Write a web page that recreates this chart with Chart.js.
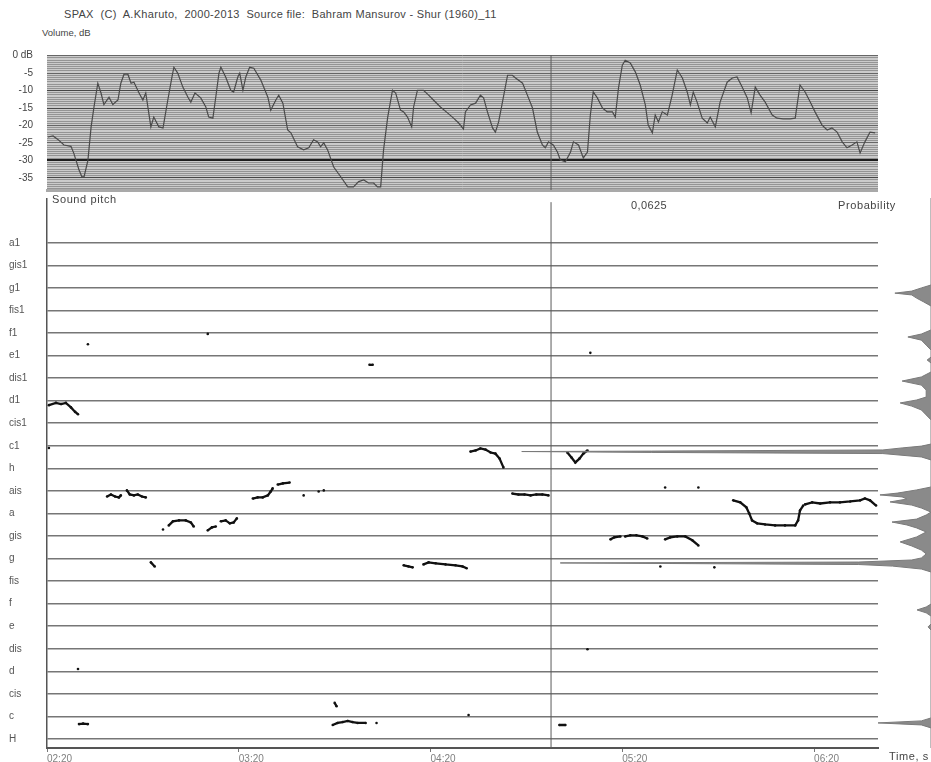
<!DOCTYPE html>
<html lang="en">
<head>
<meta charset="UTF-8">
<title>SPAX - Sound pitch</title>
<script src="https://cdn.jsdelivr.net/npm/chart.js"></script>
<style>
    body { margin: 0; background: #fff; font-family: 'Liberation Sans', Arial, sans-serif; }
    #page { position: relative; width: 931px; height: 762px; overflow: hidden; }
    .box { position: absolute; }
    .lbl { position: absolute; font-size: 11px; letter-spacing: 0.6px; color: #444; white-space: pre; }
</style>
</head>
<body>
<div id="page">
    <div class="box" style="left:0;top:45px;width:878px;height:150px;"><canvas id="volumeChart"></canvas></div>
    <div class="box" style="left:0;top:195px;width:882px;height:567px;"><canvas id="pitchChart"></canvas></div>
    <div class="box" style="left:0;top:195px;width:931px;height:567px;"><canvas id="probChart"></canvas></div>
    <div class="lbl" style="left:64px;top:8px;letter-spacing:0.3px;">SPAX  (C)  A.Kharuto,  2000-2013  Source file:  Bahram Mansurov - Shur (1960)_11</div>
    <div class="lbl" style="left:42px;top:27px;font-size:9.5px;letter-spacing:0;">Volume, dB</div>
    <div class="lbl" style="left:52px;top:193px;">Sound pitch</div>
    <div class="lbl" style="left:631px;top:199px;letter-spacing:0.4px;">0,0625</div>
    <div class="lbl" style="left:838px;top:199px;">Probability</div>
    <div class="lbl" style="left:889px;top:750px;">Time, s</div>
</div>

<script>
// time axis (seconds), ticks every minute
const tMin = 140, tMax = 400;
const timeTicks = [140, 200, 260, 320, 380];
const timeLabels = ['02:20', '03:20', '04:20', '05:20', '06:20'];
const cursorTime = 297.7;

// volume panel
const volMin = -38.5, volMax = 0.2;
const volTickValues = [0, -5, -10, -15, -20, -25, -30, -35];
const volTickLabels = ['0 dB', '-5', '-10', '-15', '-20', '-25', '-30', '-35'];
const volTime = [
    140.3,141.9,143.4,145.3,147.5,148.4,150.0,150.9,151.6,152.8,
    153.8,154.7,155.9,156.9,157.8,159.4,160.6,162.2,163.1,164.1,
    165.3,166.3,167.2,168.8,170.0,170.9,172.5,173.4,175.0,176.3,
    177.8,179.1,179.7,180.9,182.5,184.1,185.0,186.3,188.1,189.7,
    190.6,191.9,192.8,193.8,194.4,195.9,197.5,198.4,199.7,200.3,
    201.3,202.2,203.4,204.7,206.9,209.1,210.0,211.6,212.5,213.8,
    215.3,216.3,218.4,220.3,221.9,223.4,224.7,225.6,226.6,227.8,
    229.7,231.9,234.1,235.9,237.5,239.1,240.6,242.2,243.4,244.4,
    245.3,246.6,248.1,249.1,250.6,251.6,252.8,254.1,254.7,255.9,
    257.8,259.4,260.9,263.1,265.3,267.2,268.8,270.3,270.9,272.5,
    274.1,275.6,276.6,277.8,279.4,280.3,281.3,282.5,284.1,285.6,
    286.6,288.8,290.3,291.9,293.4,295.0,295.9,296.9,298.4,299.7,
    300.6,302.2,303.8,304.7,306.3,307.8,309.1,310.0,310.9,312.2,
    313.8,315.3,316.9,317.8,318.8,320.0,320.9,322.5,324.1,325.6,
    327.2,328.1,329.4,330.3,331.3,332.5,334.1,335.6,337.2,338.8,
    340.3,341.3,342.2,343.4,345.0,346.6,347.5,349.1,350.6,352.8,
    354.4,355.9,357.5,359.1,360.3,361.6,363.1,364.7,366.9,368.4,
    370.3,372.5,374.1,375.6,377.2,378.8,380.3,382.5,384.1,385.6,
    387.2,388.8,390.3,391.9,393.4,394.4,395.9,397.5,399.1
];
const volDb = [
    -23.3,-23,-24,-25.6,-26,-28,-32.7,-34.7,-34.7,-30,
    -20.4,-14.7,-7.9,-10.7,-14,-11.9,-14,-12.7,-7.9,-5.3,
    -5.3,-7.9,-7.6,-10.7,-12.7,-10.7,-20.4,-17.6,-20.4,-20.7,
    -12.7,-6.1,-3.3,-5,-9,-11.9,-13.3,-10.7,-12.1,-14.7,
    -17.6,-17.9,-11.9,-5,-3.3,-6.1,-9.9,-10.4,-6.1,-5,
    -9.9,-6.1,-3.3,-3.6,-7,-11.9,-15.6,-12.7,-11.3,-13.6,
    -21.3,-22.1,-26.1,-27,-26.4,-24.1,-24.7,-26.1,-25,-27,
    -31.9,-34.7,-37.6,-37.6,-36.1,-35.6,-36.5,-36.5,-37.6,-37.6,
    -27,-17.6,-9.9,-10.7,-15.6,-16.1,-17.6,-20.4,-14.7,-9.9,
    -9.9,-11.3,-12.7,-14.7,-16.4,-17.9,-19.3,-21,-16.1,-14.1,
    -13.6,-11.3,-12.1,-16.1,-20.7,-21.9,-19,-13.3,-5.6,-5.6,
    -6.4,-7.9,-11.3,-15,-21.9,-25.6,-26.4,-24.7,-25.6,-27.6,
    -29.9,-30.4,-27.6,-24.7,-25.6,-29.3,-27.6,-17,-10.4,-12.1,
    -15,-16.1,-16.1,-17.6,-9.3,-2.7,-1.3,-2.1,-4.7,-8.4,
    -14.1,-19.9,-22.1,-17,-19,-16.1,-17,-11.3,-4.1,-6.4,
    -10.4,-14.1,-10.4,-13.3,-17.9,-19.3,-17.6,-20.4,-13.3,-7.6,
    -6.4,-6.1,-9,-12.1,-16.4,-9,-11.3,-13.3,-17,-17.9,
    -18.1,-18.1,-17.9,-8.4,-10.4,-13.3,-16.1,-19.9,-21.3,-20.7,
    -21.9,-24.7,-26.4,-25.6,-24.7,-27.9,-24.7,-21.9,-22.1
];

// pitch panel: semitones above H
const pMin = -0.4, pMax = 23.94;
const noteNames = ['H','c','cis','d','dis','e','f','fis','g','gis','a','ais','h',
                   'c1','cis1','d1','dis1','e1','f1','fis1','g1','gis1','a1'];
const trackTimes = [
    [140.6,142.8,144.4,145.9,147.5,148.8,149.7], [140.6], [152.8], [149.7], [150.0,151.3,152.8],
    [158.8,160.0,161.3,162.5,163.1], [165.0,165.9,167.2,168.4,169.7,170.9], [172.5,173.7], [176.3],
    [178.1,179.4,181.3,183.4,185.0,185.9], [190.3], [190.3,191.6,192.8], [194.4,195.9,197.2,198.4,199.4],
    [204.4,205.9,207.5,209.1,210.0,210.6], [212.2,213.8,215.9], [220.3], [225.0], [226.6],
    [229.4,230.9,232.5,234.1,235.6,237.2,239.7], [230.0,230.6], [243.1], [240.9,241.9],
    [251.6,253.1,254.4], [257.8,259.4,261.6,264.7,267.8,270.0,271.3], [271.9],
    [272.5,274.1,275.6,277.2,278.8,280.3,281.6,282.8], [285.6,287.5,289.4,291.3,293.1,295.0,296.9],
    [300.3,302.2], [302.8,304.1,305.3,306.6,307.8,309.1], [310.0], [309.1],
    [316.3,317.5,319.4], [320.9,322.5,324.4,326.3,327.8], [331.9], [333.4], [343.8],
    [333.4,335.0,337.2,339.7,341.9,343.8], [348.8],
    [354.7,356.9,358.8,359.7,360.6,362.2,364.7,367.8,370.9,374.1,375.0,375.6,376.6],
    [377.2,379.4,381.9,385.0,388.1,391.3,394.4,395.9,397.5,399.4]
];
const trackPitches = [
    [14.8,14.9,14.85,14.9,14.7,14.5,14.4], [12.9], [17.5], [3.1], [0.66,0.68,0.66],
    [10.75,10.84,10.75,10.71,10.8], [11.02,10.84,10.8,10.84,10.75,10.71], [7.83,7.65], [9.29],
    [9.47,9.65,9.69,9.69,9.6,9.42], [17.96], [9.25,9.38,9.42], [9.65,9.69,9.56,9.6,9.78],
    [10.66,10.71,10.71,10.8,10.97,11.11], [11.28,11.33,11.37], [10.8], [10.97], [11.02],
    [0.62,0.71,0.75,0.8,0.75,0.71,0.71], [1.6,1.45], [0.71], [16.59,16.59],
    [7.7,7.65,7.61], [7.74,7.83,7.79,7.74,7.7,7.65,7.57], [1.06],
    [12.74,12.79,12.88,12.83,12.7,12.65,12.43,12.04], [10.88,10.84,10.84,10.8,10.84,10.84,10.8],
    [0.62,0.62], [12.7,12.48,12.26,12.43,12.65,12.79], [17.12], [3.98],
    [8.85,8.94,8.98], [8.98,9.03,9.03,8.98,8.89], [7.65], [11.15], [11.15],
    [8.85,8.94,8.98,8.98,8.81,8.58], [7.61],
    [10.58,10.49,10.27,10.0,9.69,9.56,9.51,9.47,9.47,9.47,9.69,10.13,10.35],
    [10.4,10.49,10.44,10.49,10.49,10.53,10.58,10.66,10.58,10.35]
];

// pitch probability profile (right strip)
const probMax = 0.1836;
const probPitch = [
    -0.4, 0.49,0.62,0.71,0.80,0.93,1.2, 4.82,4.96,5.09, 5.44,5.58,5.71,5.84,5.97,
    7.39,7.52,7.65,7.72,7.79,7.83,7.92,8.01, 8.19,8.36,8.54,8.72,8.94,9.16,
    9.34,9.47,9.60,9.73,9.91, 10.04,10.22,10.35,10.49,10.62,10.71,10.80,10.88,11.02,11.15,
    12.35,12.48,12.63,12.68,12.72,12.74,12.79,12.88,12.96,13.05,
    14.12,14.34,14.56,14.73,14.87,15.00,15.13, 15.44,15.66,15.84,16.02,16.24,
    16.64,16.77,16.90, 17.21,17.43,17.65,17.79,17.92,18.10,
    19.16,19.34,19.51,19.65,19.73,19.82,19.96,20.09, 23.94
];
const probValue = [
    0, 0,0.002,0.011,0.002,0,0, 0,0.0006,0, 0,0.001,0.0029,0.001,0,
    0,0.002,0.008,0.015,0.077,0.015,0.004,0.002, 0.001,0.002,0.004,0.0064,0.003,0.001,
    0.003,0.005,0.0081,0.003,0.001, 0,0.002,0.004,0.0085,0.005,0.006,0.0106,0.007,0.003,0,
    0,0.002,0.01,0.058,0.085,0.058,0.01,0.006,0.002,0,
    0,0.001,0.002,0.004,0.0064,0.003,0.001, 0.001,0.002,0.006,0.002,0,
    0,0.0008,0, 0,0.001,0.002,0.0048,0.002,0,
    0,0.0015,0.003,0.004,0.0075,0.004,0.002,0, 0
];

// fills the plot area behind the grid
const areaFill = {
    id: 'areaFill',
    beforeDraw(chart, args, opts) {
        if (!opts.color) return;
        const a = chart.chartArea, ctx = chart.ctx;
        ctx.save();
        ctx.fillStyle = opts.color;
        ctx.fillRect(a.left, a.top, a.right - a.left, a.bottom - a.top);
        ctx.restore();
    }
};

// keep the plot areas where the layout padding puts them
function noEdgePadding(s) {
    s.paddingTop = 0; s.paddingBottom = 0; s.paddingLeft = 0; s.paddingRight = 0;
}

const volGrid = [];
for (let v = 0; v >= volMin; v -= 0.625) volGrid.push(v);

function volLineColor(v) {
    if (v === -30) return '#1e1e1e';
    if (v === -10 || v === -15 || v === -35) return '#474747';
    if (v % 5 === 0) return '#666';
    return '#949494';
}

new Chart(document.getElementById('volumeChart'), {
    type: 'scatter',
    data: {
        datasets: [{
            data: volTime.map((t, i) => ({ x: t, y: volDb[i] })),
            showLine: true, borderColor: '#4a4a4a', borderWidth: 1.2, pointRadius: 0
        }, {
            data: [{ x: cursorTime, y: volMin }, { x: cursorTime, y: volMax }],
            showLine: true, borderColor: '#5a5a5a', borderWidth: 1, pointRadius: 0
        }]
    },
    options: {
        animation: false, responsive: true, maintainAspectRatio: false,
        layout: { padding: { top: 10, bottom: 5, left: 0, right: 0 } },
        plugins: { legend: { display: false }, tooltip: { enabled: false }, areaFill: { color: '#cbcbcb' } },
        scales: {
            x: {
                type: 'linear', min: tMin, max: tMax,
                afterFit(s) { s.height = 0; noEdgePadding(s); },
                ticks: { display: false },
                grid: { display: false },
                border: { display: true, color: '#a9a9a9', width: 3 }
            },
            y: {
                min: volMin, max: volMax,
                afterFit(s) { s.width = 47; noEdgePadding(s); },
                afterBuildTicks(s) { s.ticks = volGrid.map(v => ({ value: v })); },
                ticks: {
                    autoSkip: false, padding: 14, color: '#444', font: { size: 10 },
                    callback: v => { const k = volTickValues.indexOf(v); return k < 0 ? '' : volTickLabels[k]; }
                },
                grid: {
                    drawTicks: false,
                    color: c => volLineColor(c.tick.value),
                    lineWidth: c => c.tick.value === -30 ? 2 : 1
                },
                border: { display: false }
            }
        }
    },
    plugins: [areaFill]
});

const pitchData = [];
trackTimes.forEach((ts, k) => {
    ts.forEach((t, i) => pitchData.push({ x: t, y: trackPitches[k][i] }));
    pitchData.push({ x: null, y: null });
});

new Chart(document.getElementById('pitchChart'), {
    type: 'scatter',
    data: {
        datasets: [{
            data: pitchData, showLine: true, spanGaps: false,
            borderColor: '#111', borderWidth: 2.3,
            pointRadius: 1.3, pointBackgroundColor: '#111', pointBorderWidth: 0
        }, {
            data: [{ x: cursorTime, y: pMin }, { x: cursorTime, y: 23.8 }],
            showLine: true, borderColor: '#5a5a5a', borderWidth: 1, pointRadius: 0
        }]
    },
    options: {
        animation: false, responsive: true, maintainAspectRatio: false,
        layout: { padding: { left: 9, top: 3, right: 0, bottom: 0 } },
        plugins: { legend: { display: false }, tooltip: { enabled: false } },
        scales: {
            x: {
                type: 'linear', min: tMin, max: tMax,
                afterFit(s) { s.height = 14; noEdgePadding(s); },
                afterBuildTicks(s) { s.ticks = timeTicks.map(v => ({ value: v })); },
                ticks: {
                    align: 'start', padding: 1, color: '#808080', font: { size: 10 },
                    callback: v => timeLabels[timeTicks.indexOf(v)]
                },
                grid: { drawOnChartArea: false, tickLength: 4, color: '#777' },
                border: { color: '#555', width: 2 }
            },
            y: {
                min: pMin, max: pMax,
                afterFit(s) { s.width = 38; noEdgePadding(s); },
                afterBuildTicks(s) { s.ticks = noteNames.map((n, i) => ({ value: i })); },
                ticks: {
                    crossAlign: 'far', autoSkip: false, color: '#555', font: { size: 10 },
                    callback: v => noteNames[v]
                },
                grid: { drawTicks: false, color: '#767676', lineWidth: 1.6 },
                border: { color: '#555', width: 1.5 }
            }
        }
    }
});

new Chart(document.getElementById('probChart'), {
    type: 'line',
    data: {
        datasets: [{
            data: probPitch.map((p, i) => ({ x: probValue[i], y: p })),
            borderColor: '#7a7a7a', borderWidth: 1, backgroundColor: '#8a8a8a',
            fill: 'origin', pointRadius: 0, tension: 0
        }]
    },
    options: {
        indexAxis: 'y',
        animation: false, responsive: true, maintainAspectRatio: false,
        layout: { padding: { left: 47, top: 3, bottom: 14, right: 0 } },
        plugins: { legend: { display: false }, tooltip: { enabled: false } },
        scales: {
            x: { type: 'linear', reverse: true, min: 0, max: probMax, display: false },
            y: { type: 'linear', min: pMin, max: pMax, display: false }
        }
    }
});
</script>
</body>
</html>
